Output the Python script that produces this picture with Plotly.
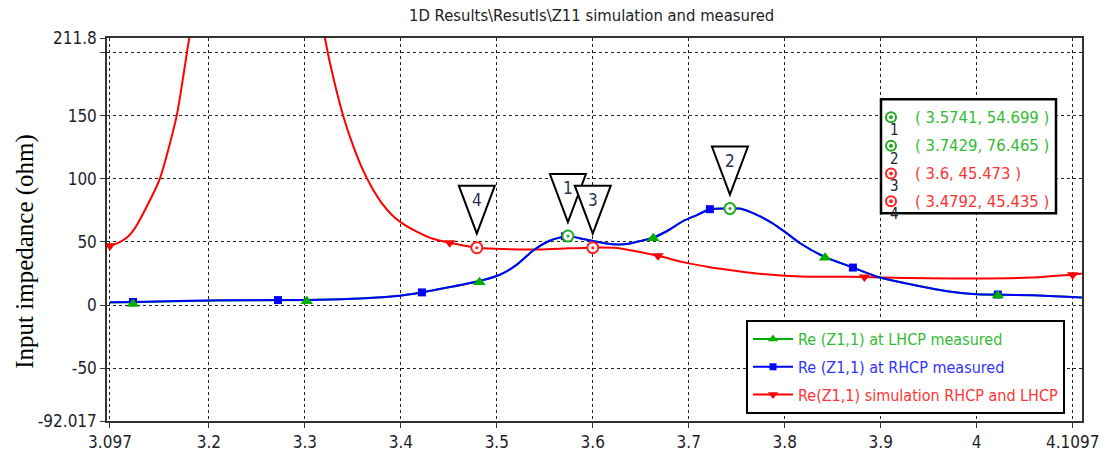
import plotly.graph_objects as go

# ---------------- data ----------------
# Re(Z1,1) simulation RHCP and LHCP (red)
sim_f = [3.097, 3.106, 3.1147, 3.123, 3.1317, 3.149, 3.1665, 3.1796, 3.19, 3.25, 3.31, 3.321, 3.3262,
         3.340, 3.350, 3.360, 3.370, 3.380, 3.390, 3.400, 3.417, 3.4335, 3.451, 3.4792, 3.498, 3.545,
         3.575, 3.6, 3.625, 3.642, 3.668, 3.694, 3.722, 3.750, 3.777, 3.816, 3.850, 3.883, 3.902,
         3.950, 4.000, 4.058, 4.079, 4.100, 4.1095]
sim_z = [47, 49.5, 53.5, 61, 72.8, 100.3, 150, 211.5, 250, 900, 260, 211.8, 192,
         150, 127, 108, 93, 81, 72, 65.5, 58, 52.5, 49.3, 45.4, 44.6, 44.0,
         45.0, 45.5, 45.2, 43.0, 39.0, 34.0, 30.0, 27.0, 24.5, 22.6, 22.4, 22.2, 21.8,
         21.2, 21.0, 21.8, 23.0, 24.0, 25.0]
sim_mark_f = [3.097, 3.451, 3.668, 3.883, 4.100]
sim_mark_z = [47, 49.3, 39.0, 22.2, 24.0]

# Re(Z1,1) at RHCP measured (blue)
rhcp_f = [3.097, 3.121, 3.2116, 3.272, 3.302, 3.35, 3.393, 3.422, 3.45, 3.482, 3.5032, 3.521,
          3.5376, 3.555, 3.5741, 3.586, 3.599, 3.6125, 3.627, 3.637, 3.651, 3.663, 3.677, 3.694,
          3.709, 3.722, 3.7429, 3.753, 3.771, 3.787, 3.802, 3.816, 3.842, 3.857, 3.871, 3.899,
          3.937, 3.971, 4.000, 4.022, 4.058, 4.1095]
rhcp_z = [2.2, 2.4, 3.7, 3.9, 4.0, 5.0, 7.0, 10.0, 14.0, 19.0, 24.0, 32.0,
          43.0, 51.0, 54.7, 53.0, 51.0, 49.0, 48.0, 48.5, 51.0, 53.4, 58.5, 66.5,
          71.5, 76.0, 76.5, 76.5, 71.5, 65.0, 57.0, 49.0, 38.0, 33.6, 29.7, 21.8,
          15.5, 10.8, 8.5, 8.3, 7.7, 6.0]
rhcp_mark_f = [3.121, 3.272, 3.422, 3.571, 3.722, 3.871, 4.022]
rhcp_mark_z = [2.4, 3.9, 10.0, 54.5, 76.0, 29.7, 8.3]

# Re(Z1,1) at LHCP measured (green) - lies under the blue curve
lhcp_f = [3.097, 3.121, 3.2116, 3.272, 3.302, 3.35, 3.393, 3.422, 3.45, 3.482, 3.5032, 3.521,
          3.5376, 3.555, 3.5741, 3.586, 3.599, 3.6125, 3.627, 3.637, 3.651, 3.663, 3.677, 3.694,
          3.709, 3.722, 3.7429, 3.753, 3.771, 3.787, 3.802, 3.816, 3.842, 3.857, 3.871, 3.899,
          3.937, 3.971, 4.000, 4.022, 4.058, 4.1095]
lhcp_z = [2.0, 2.2, 3.6, 3.8, 3.9, 5.0, 7.0, 10.0, 14.0, 19.0, 24.0, 32.0,
          43.0, 51.0, 54.7, 53.0, 51.0, 49.0, 48.0, 48.5, 51.0, 53.4, 58.5, 66.5,
          71.5, 76.0, 76.5, 76.5, 71.5, 65.0, 57.0, 49.0, 38.0, 33.6, 29.7, 21.8,
          15.5, 10.8, 8.5, 8.0, 7.7, 6.0]
lhcp_mark_f = [3.121, 3.302, 3.482, 3.663, 3.842, 4.022]
lhcp_mark_z = [0.8, 3.0, 18.0, 53.0, 37.5, 7.5]

# numbered markers
mk_ids = ["1", "2", "3", "4"]
mk_f = [3.5741, 3.7429, 3.6, 3.4792]
mk_z = [54.699, 76.465, 45.473, 45.435]
mk_col = ["#22aa22", "#22aa22", "#ff2020", "#ff2020"]
mk_text = ["( 3.5741, 54.699 )", "( 3.7429, 76.465 )", "( 3.6, 45.473 )", "( 3.4792, 45.435 )"]

x_tickvals = [3.097, 3.2, 3.3, 3.4, 3.5, 3.6, 3.7, 3.8, 3.9, 4.0, 4.1]
x_ticktext = ["3.097", "3.2", "3.3", "3.4", "3.5", "3.6", "3.7", "3.8", "3.9", "4", "4.1097"]
y_tickvals = [-92.017, -50, 0, 50, 100, 150, 200, 211.8]
y_ticktext = ["-92.017", "-50", "0", "50", "100", "150", "", "211.8"]

TITLE = "1D Results\\Resutls\\Z11 simulation and measured"
YTITLE = "Input impedance (ohm)"
names = ["Re (Z1,1) at LHCP measured", "Re (Z1,1) at RHCP measured", "Re(Z1,1) simulation RHCP and LHCP"]

# ---------------- style ----------------
GREEN, BLUE, RED = "#00b000", "#0000ff", "#ff0000"
TXT_G, TXT_B, TXT_R = "#33bb33", "#3333ff", "#ff3333"
SANS = "DejaVu Sans Condensed, DejaVu Sans, sans-serif"
W, H = 1115, 464
L, R, T, B = 107, 33, 38, 39
PW, PH = W - L - R, H - T - B


def px(xp):
    return (xp - L) / PW


def py(yp):
    return (H - B - yp) / PH


fig = go.Figure()

# lines
line_shape = dict(shape="spline", smoothing=0.6)
fig.add_trace(go.Scatter(x=sim_f, y=sim_z, mode="lines", line=dict(color=RED, width=2, **line_shape),
                         showlegend=False))
fig.add_trace(go.Scatter(x=lhcp_f, y=lhcp_z, mode="lines", line=dict(color=GREEN, width=2, **line_shape),
                         showlegend=False))
fig.add_trace(go.Scatter(x=rhcp_f, y=rhcp_z, mode="lines", line=dict(color=BLUE, width=2, **line_shape),
                         showlegend=False))
# symbol markers
fig.add_trace(go.Scatter(x=sim_mark_f, y=sim_mark_z, mode="markers", showlegend=False, cliponaxis=False,
                         marker=dict(symbol="triangle-down", size=10, color=RED)))
fig.add_trace(go.Scatter(x=rhcp_mark_f, y=rhcp_mark_z, mode="markers", showlegend=False,
                         marker=dict(symbol="square", size=8, color=BLUE)))
fig.add_trace(go.Scatter(x=lhcp_mark_f, y=lhcp_mark_z, mode="markers", showlegend=False,
                         marker=dict(symbol="triangle-up", size=11, color=GREEN)))
# numbered marker circles
fig.add_trace(go.Scatter(x=mk_f, y=mk_z, mode="markers", showlegend=False,
                         marker=dict(symbol="circle", size=11, color="white",
                                     line=dict(color=mk_col, width=2))))
fig.add_trace(go.Scatter(x=mk_f, y=mk_z, mode="markers", showlegend=False,
                         marker=dict(symbol="circle", size=3, color=mk_col)))

# legend entries
for k, (nm, col, tcol, sym, sz) in enumerate([(names[0], GREEN, TXT_G, "triangle-up", 9),
                                              (names[1], BLUE, TXT_B, "square", 7),
                                              (names[2], RED, TXT_R, "triangle-down", 9)]):
    fig.add_trace(go.Scatter(x=[None], y=[None], mode="lines+markers", legendgroup=f"g{k}",
                             name=f"<span style='color:{tcol}'>{nm}</span>",
                             line=dict(color=col, width=2), marker=dict(symbol=sym, size=sz, color=col)))

shapes = []
annotations = []
# callout triangles (1 before 3 so that 3 overlaps it)
for i in [3, 0, 2, 1]:
    shapes.append(dict(type="path", xref="x", yref="y", xsizemode="pixel", ysizemode="pixel",
                       xanchor=mk_f[i], yanchor=mk_z[i], path="M -18,62 L 18,62 L 0,14 Z",
                       line=dict(color="black", width=2), fillcolor="white", layer="above"))
    annotations.append(dict(x=mk_f[i], y=mk_z[i], xref="x", yref="y", text=mk_ids[i], showarrow=False,
                            yshift=48, font=dict(family=SANS, size=17, color="#2a3050")))

# marker info box
shapes.append(dict(type="rect", xref="paper", yref="paper", x0=px(881), x1=px(1056), y0=py(215), y1=py(100),
                   line=dict(color="black", width=2.5), fillcolor="white", layer="above"))
rows_y = [118, 147, 175, 203]
for i in range(4):
    shapes.append(dict(type="circle", xref="paper", yref="paper", xsizemode="pixel", ysizemode="pixel",
                       xanchor=px(891), yanchor=py(rows_y[i]), x0=-5, x1=5, y0=-5, y1=5,
                       line=dict(color=mk_col[i], width=2), fillcolor="white", layer="above"))
    shapes.append(dict(type="circle", xref="paper", yref="paper", xsizemode="pixel", ysizemode="pixel",
                       xanchor=px(891), yanchor=py(rows_y[i]), x0=-1.5, x1=1.5, y0=-1.5, y1=1.5,
                       line=dict(color=mk_col[i], width=1), fillcolor=mk_col[i], layer="above"))
    annotations.append(dict(x=px(913), y=py(rows_y[i]), xref="paper", yref="paper", xanchor="left",
                            yanchor="middle", text=mk_text[i], showarrow=False,
                            font=dict(family=SANS, size=16.5, color=TXT_G if i < 2 else TXT_R)))
    annotations.append(dict(x=px(894), y=py(rows_y[i] + 13), xref="paper", yref="paper", xanchor="center",
                            yanchor="middle", text=mk_ids[i], showarrow=False,
                            font=dict(family=SANS, size=15, color="#222233")))

# title and y title
annotations.append(dict(x=px(591), y=py(15), xref="paper", yref="paper", text=TITLE, showarrow=False,
                        xanchor="center", yanchor="middle", font=dict(family=SANS, size=16.5, color="#222")))
annotations.append(dict(x=px(25), y=py(254), xref="paper", yref="paper", text=YTITLE, showarrow=False,
                        textangle=-90, xanchor="center", yanchor="middle",
                        font=dict(family="Liberation Serif, Times New Roman, serif", size=25, color="black")))

axis_common = dict(showline=True, linecolor="#333", linewidth=1.5, mirror=True, ticks="outside", ticklen=5,
                   tickcolor="#333", showgrid=True, gridcolor="#222", gridwidth=1, griddash="3px,3px",
                   zeroline=False, tickfont=dict(family=SANS, size=17, color="#1e1e2a"))

fig.update_layout(
    width=W, height=H, margin=dict(l=L, r=R, t=T, b=B),
    paper_bgcolor="white", plot_bgcolor="white",
    xaxis=dict(range=[3.0939, 4.1097], tickvals=x_tickvals, ticktext=x_ticktext, **axis_common),
    yaxis=dict(range=[-92.017, 211.8], tickvals=y_tickvals, ticktext=y_ticktext, **axis_common),
    legend=dict(x=px(746), y=py(418), xanchor="left", yanchor="bottom", bordercolor="black", borderwidth=2,
                bgcolor="white", font=dict(family=SANS, size=16), itemwidth=40, tracegroupgap=4,
                traceorder="grouped"),
    shapes=shapes, annotations=annotations, showlegend=True,
)

fig.write_html("out.html")
